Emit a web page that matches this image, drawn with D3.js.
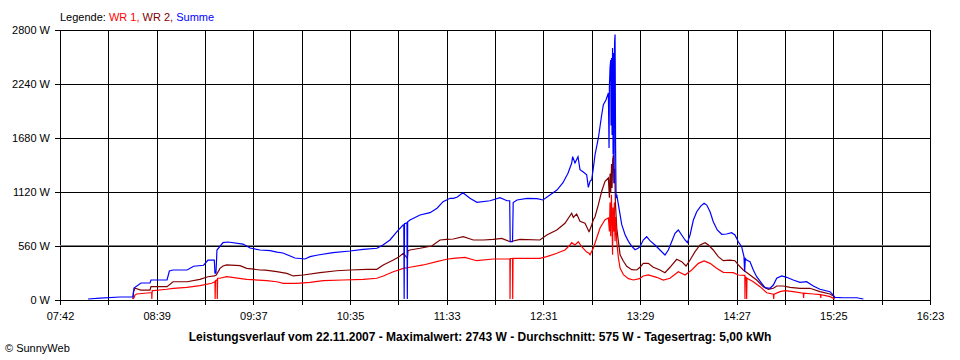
<!DOCTYPE html>
<html><head><meta charset="utf-8">
<script src="https://cdn.jsdelivr.net/npm/d3@7"></script>
<style>
html,body{margin:0;padding:0;background:#fff;}
svg{display:block;}
text{font-family:"Liberation Sans",Arial,sans-serif;}
</style></head>
<body>
<svg id="c" width="960" height="360"></svg>
<script>
// ---- data (time in minutes since midnight, power in W) ----
const xLabels = ["07:42","08:39","09:37","10:35","11:33","12:31","13:29","14:27","15:25","16:23"];
const yTicks = [0,560,1120,1680,2240,2800];
const yLabels = ["0 W","560 W","1120 W","1680 W","2240 W","2800 W"];
const seriesNames = ["WR 1","WR 2","Summe"];
const timeStart = 462, timeEnd = 983;
const averageW = 575;
const titleText = "Leistungsverlauf vom 22.11.2007 - Maximalwert: 2743 W - Durchschnitt: 575 W - Tagesertrag: 5,00 kWh";

const summe = [
[478.8,0],[486.0,10],[497.9,21],[505.7,21],[506.3,114],[510.5,166],[515.9,166],[516.5,197],[526.1,197],
[527.5,290],[529.7,301],[538.1,301],[542,340],[548,350],[550.6,404],[554.4,404],[554.8,267],[555.4,267],
[556.0,508],[559.6,584],[562.6,591],[571.6,570],[575.8,529],[581.8,508],[587.8,501],[591.9,487],[595.5,477],
[602.7,425],[608.7,415],[611.7,439],[616.5,456],[625.5,480],[635.7,498],[643.5,515],[651.8,526],[655.4,560],
[659.6,612],[663.8,698],[667.4,767],[667.9,770],[668.1,0],[668.3,780],[669.8,790],[670.0,0],[670.2,800],
[671.6,819],[677.6,871],[683.6,895],[687.8,941],[691.4,1009],[695.6,1044],[697.5,1044],[699.7,1055],
[703.3,1102],[707.5,1044],[711.7,1003],[719.5,1019],[725.5,1051],[729.7,1019],[731.3,1019],[731.6,594],
[733.0,594],[733.4,1000],[735.7,1027],[741.7,1044],[747.7,1040],[751.2,1027],[755.4,1079],[759.6,1130],
[763.2,1206],[766.2,1304],[768.4,1407],[769.0,1476],[770.4,1410],[772.2,1476],[773.4,1341],[775.2,1320],
[777.4,1289],[778.4,1158],[779.4,1220],[780.4,1237],[781.4,1359],[782.4,1496],[784.4,1670],[786.4,1911],
[787.4,2015],[789.0,2067],[790.4,2136],[790.8,1566],[791.0,2200],[791.4,2400],[791.8,2479],[792.0,1800],
[792.3,2500],[792.6,1700],[792.9,2603],[793.2,1500],[793.5,2550],[793.8,1200],[794.1,2650],[794.4,2743],
[794.7,1600],[795.0,1047],[795.4,1082],[796.4,978],[797.4,874],[798.4,771],[799.4,720],[800.4,667],
[802.4,598],[804.4,547],[806.4,511],[808.4,529],[809.3,542],[811.3,612],[813.3,646],[815.3,605],[818.3,560],
[821.3,508],[824.3,456],[826.3,508],[828.3,594],[830.3,681],[832.3,716],[834.3,664],[836.3,612],[837.7,584],
[839.3,664],[841.3,819],[843.3,905],[845.7,964],[847.7,992],[849.3,974],[851.3,905],[853.2,802],[855.6,716],
[858.3,671],[861.2,674],[864.2,688],[866.2,664],[868.2,594],[870.2,542],[871.6,439],[872.0,283],[872.4,420],
[873.2,404],[875.2,387],[877.2,301],[879.2,231],[882.2,163],[884.2,117],[887.2,111],[889.2,145],[891.2,215],
[894.2,239],[897.2,225],[901.1,197],[905.1,173],[909.1,179],[913.1,135],[917.1,101],[923.1,76],[925.1,41],
[926.1,17],[931.1,13],[939.1,13],[943.1,0]
];

const wr2 = [
[505.7,0],[506.0,76],[506.9,111],[510.5,93],[515.9,93],[516.5,128],[526.1,128],[529.7,179],[538.1,179],
[545.8,204],[550.6,231],[554.4,240],[555.6,249],[557.8,318],[559.6,342],[561.8,353],[569.8,346],[573.8,318],
[581.8,301],[585,300],[591.8,283],[597.8,266],[601.7,239],[607.7,249],[617.7,273],[627.7,293],[635.7,301],
[645.7,308],[651.7,308],[655.6,353],[661.6,404],[664.6,432],[667.6,474],[670.0,422],[670.4,500],[671.6,508],
[677.6,526],[684.6,550],[689.6,612],[693.6,619],[697.5,622],[703.5,646],[709.5,612],[715.5,612],[721.5,619],
[726.5,629],[731.5,594],[737.5,619],[749.4,612],[753.5,664],[759.5,716],[764.4,785],[768.4,889],[769.4,847],
[771.4,881],[773.4,806],[776.4,785],[778.8,698],[779.0,702],[780.4,767],[781.4,822],[782.4,853],[784.4,978],
[786.4,1117],[788.4,1221],[790.4,1255],[791.0,1050],[791.4,1300],[791.8,1100],[792.3,1400],[792.6,1150],
[793.0,1450],[793.4,1496],[793.8,1200],[794.2,1350],[794.6,1000],[795.4,736],[796.4,598],[797.4,459],
[799.4,391],[801.4,339],[804.4,304],[807.4,301],[809.3,329],[811.3,370],[814.3,370],[817.3,329],[821.3,301],
[824.3,273],[827.3,329],[831.3,412],[834.3,387],[836.9,342],[839.3,404],[842.3,491],[845.3,560],[848.3,584],
[850.3,560],[853.2,508],[856.2,439],[859.2,397],[863.2,404],[866.2,397],[868.2,353],[871.2,301],[875.2,249],
[879.2,197],[883.2,128],[886.2,101],[889.2,111],[891.2,135],[895.2,135],[899.2,121],[905.1,111],[911.1,111],
[917.1,76],[923.1,52],[925.1,31],[926.1,10]
];

const wr1 = [
[505.9,0],[506.3,13],[506.9,41],[507.9,52],[515.9,65],[516.9,65],[517.0,0],[517.2,86],[517.9,86],[525.9,101],
[529.9,111],[537.9,121],[545.8,138],[552.8,163],[554.8,179],[554.9,0],[555.1,190],[556.1,200],[556.2,0],
[556.4,215],[557.8,215],[561.8,231],[573.8,204],[585.8,190],[591.8,179],[595.7,163],[603.7,163],[611.7,173],
[619.7,190],[631.7,197],[643.6,204],[651.7,215],[655.6,239],[661.6,283],[667.6,318],[671.6,329],[679.6,353],
[687.6,387],[693.6,412],[697.5,422],[704.5,432],[711.5,397],[721.5,415],[731.4,415],[731.5,0],[731.7,420],
[733.0,420],[733.1,0],[733.3,422],[737.5,422],[749.4,422],[753.5,439],[759.5,474],[764.4,508],[767.4,560],
[768.4,584],[770.4,560],[772.4,594],[774.4,542],[777.4,487],[778.8,474],[779.4,459],[781.4,529],[783.4,633],
[785.4,736],[788.4,822],[790.4,840],[791.0,700],[791.4,1000],[791.8,650],[792.2,1082],[792.6,800],[792.9,459],
[793.2,950],[793.6,700],[794.0,1000],[794.4,600],[794.8,850],[795.4,598],[796.4,425],[797.4,321],[799.4,252],
[802.4,211],[805.4,197],[809.0,211],[811.3,239],[814.3,249],[819.3,225],[823.3,197],[827.3,215],[832.3,283],
[836.3,249],[840.3,301],[844.3,370],[847.7,394],[851.3,370],[855.2,318],[859.2,277],[865.2,273],[868.2,249],
[872.1,245],[872.2,0],[872.4,230],[873.1,220],[873.2,0],[873.4,215],[877.2,179],[881.2,128],[885.2,65],
[889.2,49],[889.4,0],[889.6,49],[893.2,76],[896.2,86],[901.1,76],[907.1,60],[907.3,10],[907.5,60],[913.1,52],
[917.4,45],[917.6,10],[917.8,45],[923.1,24],[925.1,8],[926.1,0]
];

// ---- drawing ----
const svg = d3.select("#c");
const x = d3.scaleLinear().domain([timeStart, timeEnd]).range([60, 930]);
const y = d3.scaleLinear().domain([0, 2800]).range([300, 30]);

const xTicks = d3.range(19).map(i => timeStart + i*(timeEnd-timeStart)/18);

const gx = svg.append("g").attr("transform","translate(0,30)")
  .call(d3.axisBottom(x).tickValues(xTicks).tickSize(275).tickPadding(7)
    .tickFormat((d,i)=> i%2===0 ? xLabels[i/2] : ""));
gx.select(".domain").remove();
gx.selectAll("line").attr("stroke","#000").attr("shape-rendering","crispEdges");
gx.selectAll("text").attr("font-family","Liberation Sans, Arial, sans-serif").attr("font-size",11).attr("fill","#000");

const gy = svg.append("g").attr("transform","translate(930,0)")
  .call(d3.axisLeft(y).tickValues(yTicks).tickSize(875).tickPadding(5)
    .tickFormat((d,i)=> yLabels[i]));
gy.select(".domain").remove();
gy.selectAll("line").attr("stroke","#000").attr("shape-rendering","crispEdges");
gy.selectAll("text").attr("font-family","Liberation Sans, Arial, sans-serif").attr("font-size",11).attr("fill","#000");

// average line
svg.append("line")
  .attr("x1", x(timeStart)).attr("x2", x(timeEnd))
  .attr("y1", y(averageW)+0.5).attr("y2", y(averageW)+0.5)
  .attr("stroke","#808080").attr("stroke-width",1).attr("shape-rendering","crispEdges");

const line = d3.line().x(d=>x(d[0])).y(d=>y(d[1]));
const dataG = svg.append("g").attr("transform","translate(0,-1)");
[[wr2,"#800000"],[wr1,"#ff0000"],[summe,"#0000ff"]].forEach(([s,c])=>{
  dataG.append("path").datum(s).attr("d",line).attr("fill","none")
    .attr("stroke",c).attr("stroke-width",1.2).attr("stroke-linejoin","miter");
});

// legend
const leg = svg.append("text").attr("x",60).attr("y",21).attr("font-size",11);
leg.append("tspan").attr("fill","#000").text("Legende: ");
leg.append("tspan").attr("fill","#ff0000").text(seriesNames[0]+", ");
leg.append("tspan").attr("fill","#800000").text(seriesNames[1]+", ");
leg.append("tspan").attr("fill","#0000ff").text(seriesNames[2]);

// title
svg.append("text").attr("x",480).attr("y",341).attr("text-anchor","middle")
  .attr("font-size",12).attr("font-weight","bold").attr("fill","#000").text(titleText);

// copyright
svg.append("text").attr("x",5).attr("y",352).attr("font-size",11).attr("fill","#000").text("© SunnyWeb");
</script>
</body></html>
